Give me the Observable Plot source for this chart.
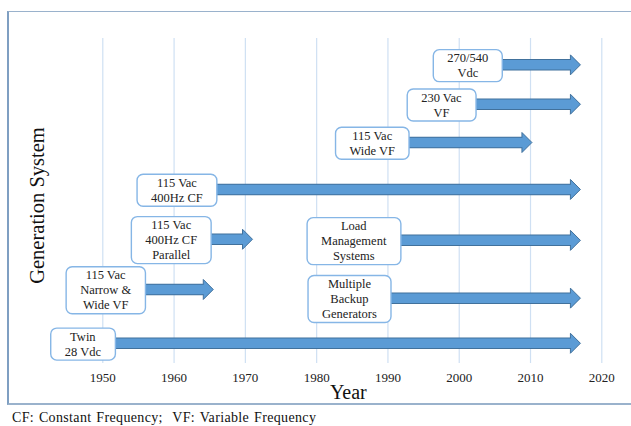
<!DOCTYPE html>
<html>
<head>
<meta charset="utf-8">
<script src="https://cdn.jsdelivr.net/npm/d3@7"></script>
<script src="https://cdn.jsdelivr.net/npm/@observablehq/plot@0.6"></script>
<style>
  html, body { margin: 0; padding: 0; background: #fff; }
  #wrap { position: relative; width: 631px; height: 426px; overflow: hidden; }
  #frame { position: absolute; left: 7px; top: 11px; width: 640px; height: 391px;
    border-left: 2px solid #7f9fc2; border-top: 1.5px solid #9ab2cc; border-bottom: 2px solid #9ab2cc;
    pointer-events: none; }
  #caption { position: absolute; left: 12px; top: 409px; font-size: 14px; letter-spacing: 0.35px; color: #111; line-height: 17px; word-spacing: 1px; }
  svg text, svg g, #caption { font-family: "Liberation Serif", "Times New Roman", Times, serif !important; }
</style>
</head>
<body>
<div id="wrap">
  <div id="chart"></div>
  <div id="frame"></div>
  <div id="caption">CF: Constant Frequency;&nbsp; VF: Variable Frequency</div>
</div>
<script>
// ---- data ----
const systems = ["Twin\n28 Vdc", "115 Vac\nNarrow &\nWide VF", "Multiple\nBackup\nGenerators",
  "115 Vac\n400Hz CF\nParallel", "Load\nManagement\nSystems", "115 Vac\n400Hz CF",
  "115 Vac\nWide VF", "230 Vac\nVF", "270/540\nVdc"];
const startYears = [1947.2, 1950.4, 1984.6, 1959.6, 1985.2, 1960.4, 1987.8, 1997.5, 2001.2];
const endYears   = [2017, 1965.5, 2017, 1971, 2017, 2017, 2010.2, 2017, 2017];
const levels     = [0.56, 2.05, 1.81, 3.44, 3.41, 4.82, 6.12, 7.18, 8.27];
const yearTicks  = [1950, 1960, 1970, 1980, 1990, 2000, 2010, 2020];

const rows = systems.map((s, i) => ({label: s, start: startYears[i], end: endYears[i], level: levels[i]}));

const serif = "'Liberation Serif', 'Times New Roman', serif";
const fillBlue = "#5b9bd5", edgeBlue = "#41719c";
const head = {draw(ctx) { ctx.moveTo(-10, -10); ctx.lineTo(0, 0); ctx.lineTo(-10, 10); ctx.closePath(); }};

const plot = Plot.plot({
  width: 631, height: 406,
  marginLeft: 102.3, marginRight: 29.7, marginTop: 38, marginBottom: 43,
  style: {fontFamily: serif, fontSize: "13px", color: "#222", background: "transparent"},
  x: {domain: [1950, 2020], ticks: yearTicks, tickFormat: d => String(d), tickSize: 0, tickPadding: 9, label: null},
  y: {domain: [0, 9], axis: null},
  marks: [
    Plot.ruleX(yearTicks, {stroke: "#cfe0f3", strokeWidth: 1.2}),
    Plot.ruleY(rows, {y: "level", x1: "start", x2: "end", stroke: edgeBlue, strokeWidth: 11.5, insetRight: 9}),
    Plot.dot(rows, {x: "end", y: "level", symbol: head, fill: fillBlue, stroke: edgeBlue, strokeWidth: 1}),
    Plot.ruleY(rows, {y: "level", x1: "start", x2: "end", stroke: fillBlue, strokeWidth: 9.5, insetRight: 8}),
    Plot.text(rows, {x: "start", y: "level", text: "label", fontSize: 12.5, lineHeight: 1.2, fill: "#222", fontFamily: serif, className: "boxlbl"}),
    Plot.text(["Year"], {text: d => d, frameAnchor: "bottom", dy: 35, dx: -4, fontSize: 20, fill: "#111", fontFamily: serif}),
    Plot.text(["Generation System"], {text: d => d, frameAnchor: "left", textAnchor: "middle", rotate: -90, dx: -65, dy: 4.5, fontSize: 20.5, fill: "#111", fontFamily: serif})
  ]
});
document.getElementById("chart").appendChild(plot);

// rounded boxes behind the labels
const padX = 14, padY = 1.5;
plot.querySelectorAll("g.boxlbl text").forEach(t => {
  const b = t.getBBox();
  const r = document.createElementNS("http://www.w3.org/2000/svg", "rect");
  r.setAttribute("x", b.x - padX);
  r.setAttribute("y", b.y - padY);
  r.setAttribute("width", b.width + 2 * padX);
  r.setAttribute("height", b.height + 2 * padY);
  r.setAttribute("rx", 6);
  r.setAttribute("fill", "#fff");
  r.setAttribute("stroke", "#86b6e6");
  r.setAttribute("stroke-width", 1.4);
  if (t.getAttribute("transform")) r.setAttribute("transform", t.getAttribute("transform"));
  t.parentNode.insertBefore(r, t);
});
</script>
</body>
</html>
